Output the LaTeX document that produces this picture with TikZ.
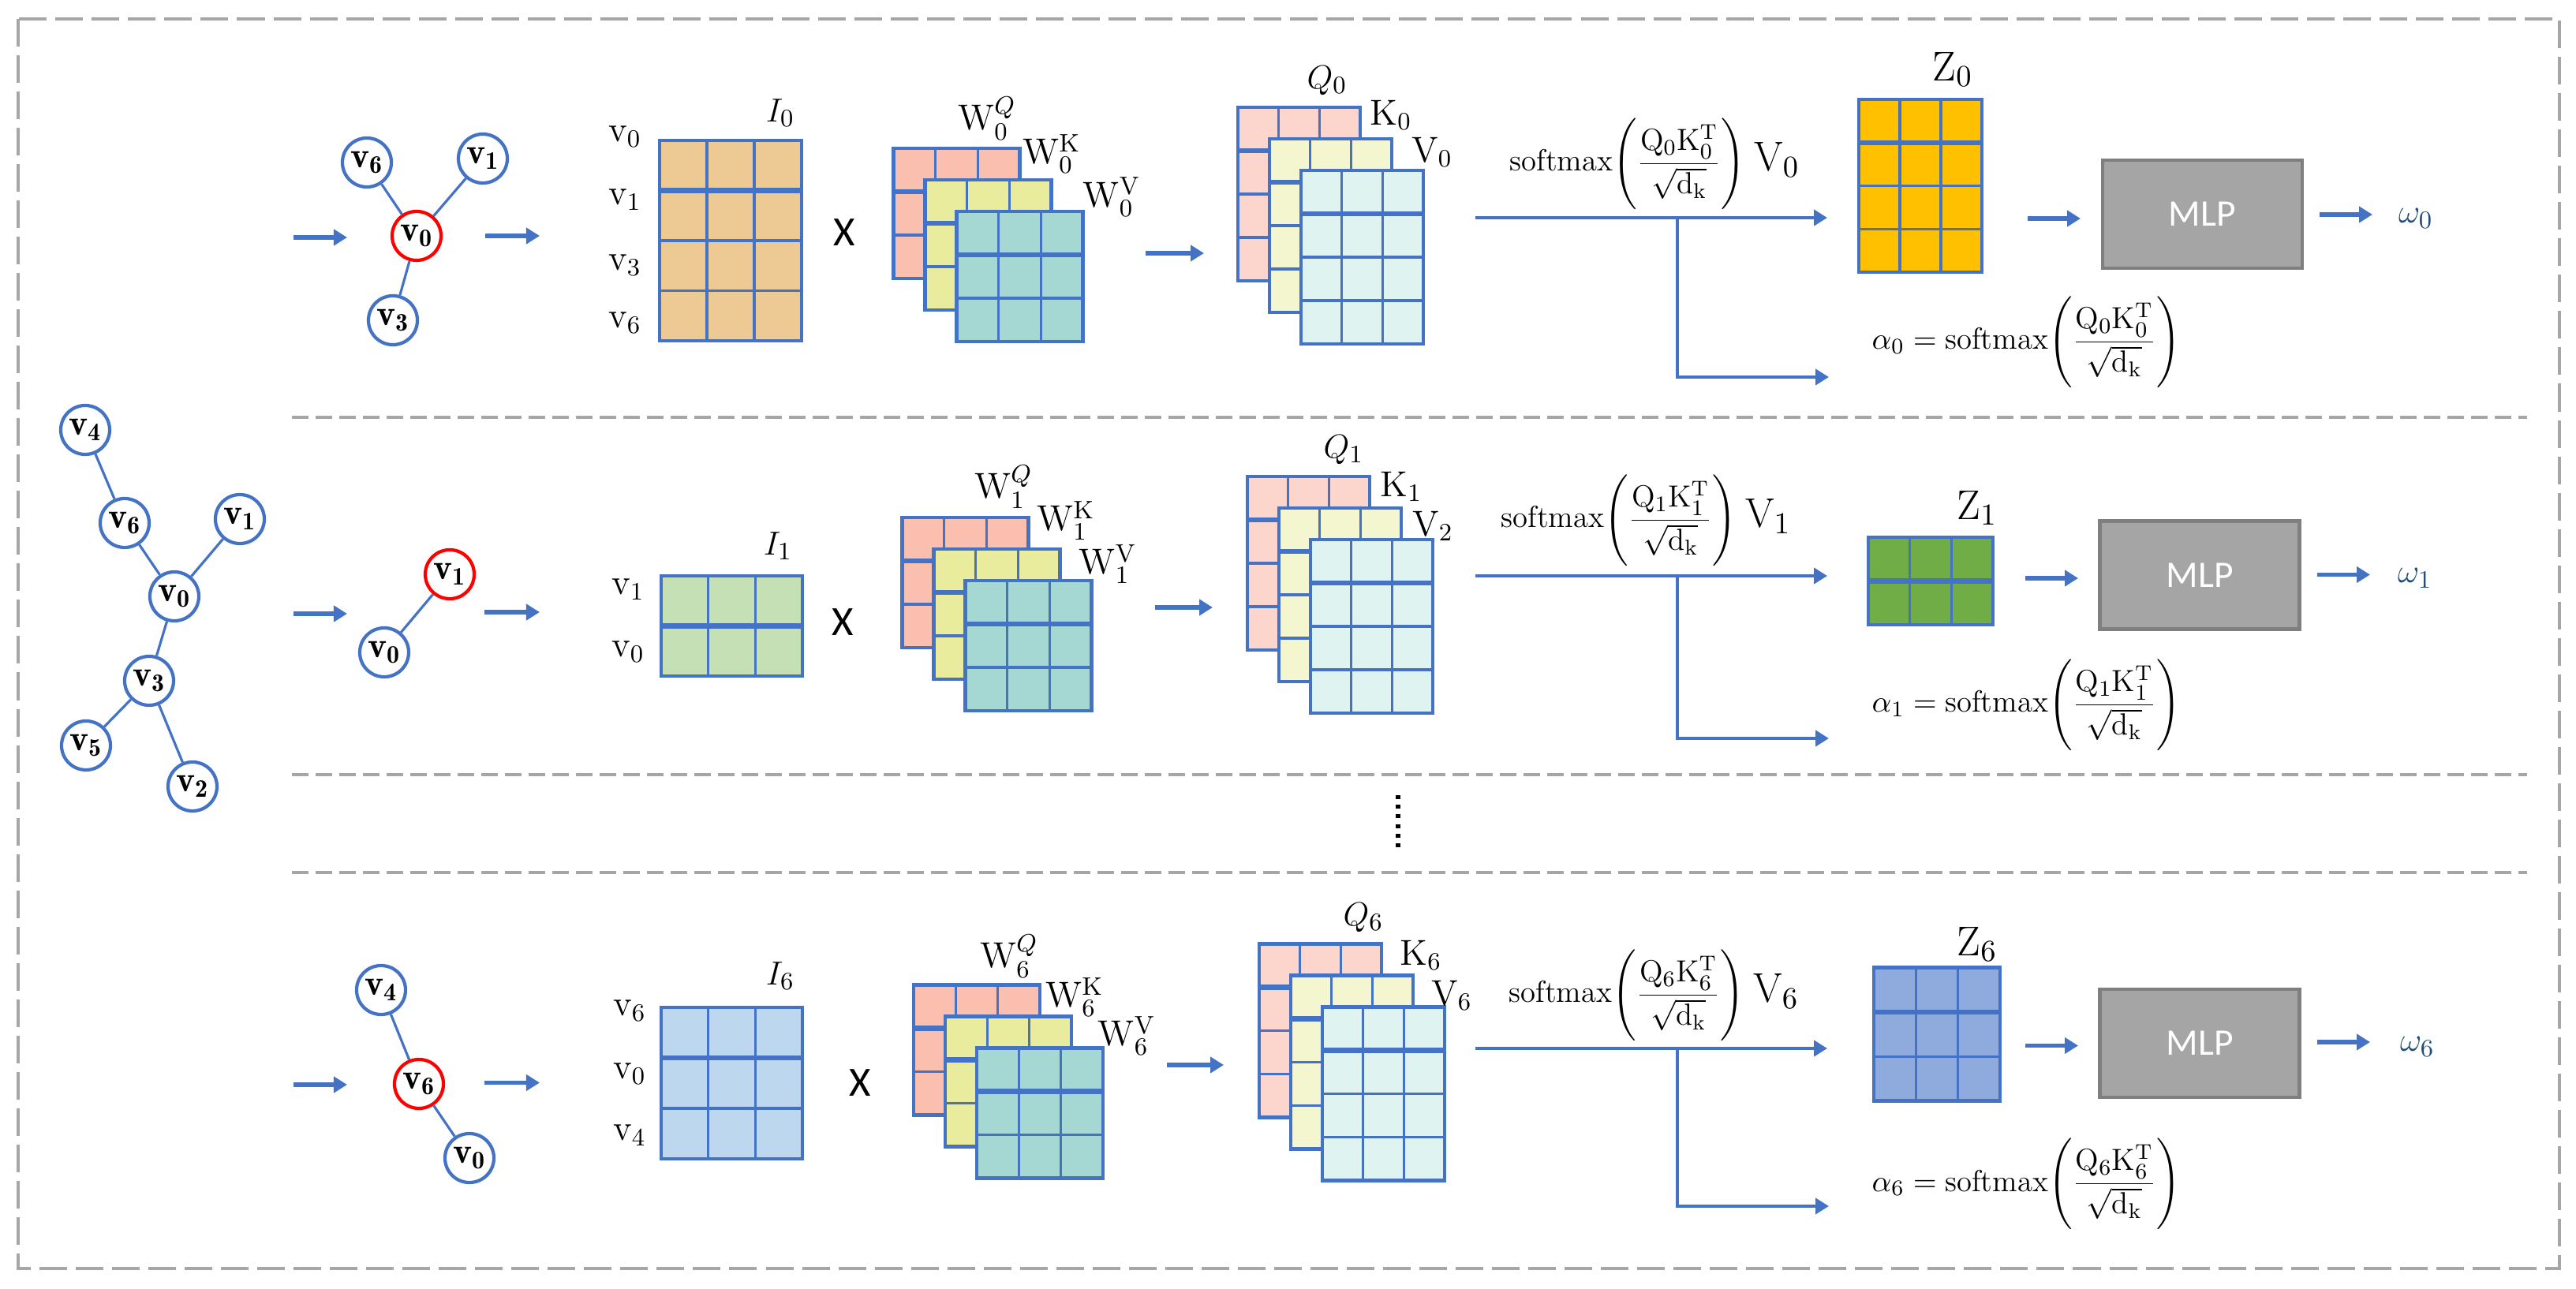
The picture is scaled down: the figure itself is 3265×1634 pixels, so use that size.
\documentclass[tikz,border=0pt]{standalone}
\usepackage{amsmath}
\usepackage{fontspec}
\newfontfamily\calibri{Carlito}
\usetikzlibrary{positioning, calc, arrows.meta}

\definecolor{lineblue}{RGB}{68,114,196}
\definecolor{hotred}{RGB}{255,0,0}
\definecolor{dashgrey}{RGB}{166,166,166}
\definecolor{mlpfill}{RGB}{165,165,165}
\definecolor{mlpedge}{RGB}{127,127,127}
\definecolor{omegablue}{RGB}{31,78,121}
\definecolor{ifill0}{RGB}{237,202,148}
\definecolor{ifill1}{RGB}{197,224,180}
\definecolor{ifill6}{RGB}{189,215,238}
\definecolor{wq}{RGB}{251,191,175}
\definecolor{wk}{RGB}{233,235,157}
\definecolor{wv}{RGB}{165,216,210}
\definecolor{mq}{RGB}{252,214,204}
\definecolor{mk}{RGB}{243,246,207}
\definecolor{mv}{RGB}{223,243,240}
\definecolor{zfill0}{RGB}{255,192,0}
\definecolor{zfill1}{RGB}{112,173,71}
\definecolor{zfill6}{RGB}{143,170,220}

\tikzset{
  vert/.style={circle,draw=lineblue,line width=1.2pt,fill=white,inner sep=0pt,minimum size=0.62cm,font=\fontsize{13}{13}\selectfont},
  centre/.style={vert,draw=hotred},
  link/.style={lineblue,line width=0.9pt},
  flow/.style={lineblue,line width=1.7pt,-{Triangle[length=0.17cm,width=0.2cm]}},
  branch/.style={lineblue,line width=1.4pt,-{Triangle[length=0.17cm,width=0.2cm]}},
  cellbox/.style={rectangle,draw=lineblue,line width=1.2pt,inner sep=0pt,outer sep=0pt},
  gridline/.style={lineblue,line width=0.9pt},
  lbl/.style={inner sep=0pt,font=\fontsize{13}{13}\selectfont},
  formula/.style={inner sep=0pt,font=\fontsize{11}{11}\selectfont},
  mlpbox/.style={rectangle,draw=mlpedge,fill=mlpfill,line width=1.3pt,minimum width=2.53cm,minimum height=1.37cm,text=white,font=\calibri\fontsize{13.5}{14}\selectfont},
  mult/.style={inner sep=0pt,font=\calibri\fontsize{15}{15}\selectfont},
  rowline/.style={dashgrey,line width=1pt,dash pattern=on 0.21cm off 0.09cm},
  outerdash/.style={dashgrey,line width=1.2pt,dash pattern=on 0.35cm off 0.11cm}
}

% grid lines inside a matrix node: name, columns, rows
\newcommand{\cellgrid}[3]{%
  \pgfmathtruncatemacro{\lastcol}{#2-1}%
  \pgfmathtruncatemacro{\lastrow}{#3-1}%
  \foreach \ci in {1,...,\lastcol}
    \draw[gridline] ($(#1.north west)!\ci/#2!(#1.north east)$) -- ($(#1.south west)!\ci/#2!(#1.south east)$);
  \foreach \ri in {1,...,\lastrow}
    \draw[gridline] ($(#1.north west)!\ri/#3!(#1.south west)$) -- ($(#1.north east)!\ri/#3!(#1.south east)$);
  \draw[gridline,line width=1.8pt] ($(#1.north west)!1/#3!(#1.south west)$) -- ($(#1.north east)!1/#3!(#1.south east)$);
  \draw[lineblue,line width=1.2pt] (#1.north west) rectangle (#1.south east);
}
% name, x, y, width, height, fill, columns, rows
\newcommand{\layer}[8]{%
  \node[cellbox,fill=#6,minimum width=#4,minimum height=#5] (#1) at (#2,#3) {};
  \cellgrid{#1}{#7}{#8}}
\newcommand{\wstack}[3]{%
  \layer{#1q}{#2}{#3}{1.6cm}{1.65cm}{wq}{3}{3}
  \layer{#1k}{#2+40}{#3+40}{1.6cm}{1.65cm}{wk}{3}{3}
  \layer{#1v}{#2+80}{#3+80}{1.6cm}{1.65cm}{wv}{3}{3}}
\newcommand{\qkvstack}[3]{%
  \layer{#1Q}{#2}{#3}{1.55cm}{2.2cm}{mq}{3}{4}
  \layer{#1K}{#2+40}{#3+40}{1.55cm}{2.2cm}{mk}{3}{4}
  \layer{#1V}{#2+80}{#3+80}{1.55cm}{2.2cm}{mv}{3}{4}}
% short arrow: name, x from, x to, y
\newcommand{\flowarrow}[4]{%
  \coordinate (#1a) at (#2,#4);
  \coordinate (#1b) at (#3,#4);
  \draw[flow] (#1a) -- (#1b);}
% attention output line and its branch: tag, y top, y bottom
\newcommand{\splitline}[3]{%
  \coordinate (#1s) at (1870,#2);
  \coordinate (#1j) at (2126,#2);
  \coordinate (#1e) at (2316,#2);
  \coordinate (#1d) at (2126,#3);
  \coordinate (#1f) at (2318,#3);
  \draw[branch] (#1s) -- (#1e);
  \draw[branch] (#1j) -- (#1d) -- (#1f);}
% softmax of Q K^T / sqrt(d_k)
\newcommand{\attn}[1]{\mathrm{softmax}\Biggl(\dfrac{\mathrm{Q}_#1\mathrm{K}_#1^{\mathrm{T}}}{\sqrt{\mathrm{d}_\mathrm{k}}}\Biggr)}

\begin{document}
\begin{tikzpicture}[x=0.01cm,y=-0.01cm]
\useasboundingbox (0,0) rectangle (3265,1634);
\draw[outerdash] (23,24) rectangle (3244,1608);
\draw[rowline] (370,529) -- (3203,529);
\draw[rowline] (370,982) -- (3203,982);
\draw[rowline] (370,1106) -- (3203,1106);
\draw[black,line width=1.6pt,dash pattern=on 0.05cm off 0.072cm] (1772,1008) -- (1772,1078);

% whole graph
\node[vert] (g4) at (108,545) {$\mathbf{v_4}$};
\node[vert] (g6) at (158,663) {$\mathbf{v_6}$};
\node[vert] (g1) at (304,658) {$\mathbf{v_1}$};
\node[vert] (g0) at (221,756) {$\mathbf{v_0}$};
\node[vert] (g3) at (189,863) {$\mathbf{v_3}$};
\node[vert] (g5) at (109,945) {$\mathbf{v_5}$};
\node[vert] (g2) at (244,997) {$\mathbf{v_2}$};
\draw[link] (g4) -- (g6) -- (g0) -- (g3) -- (g5) (g1) -- (g0) (g3) -- (g2);

% row 0
\flowarrow{in0}{372}{440}{301}
\node[centre] (s0v0) at (528,299) {$\mathbf{v_0}$};
\node[vert] (s0v6) at (465,206) {$\mathbf{v_6}$};
\node[vert] (s0v1) at (612,201) {$\mathbf{v_1}$};
\node[vert] (s0v3) at (498,406) {$\mathbf{v_3}$};
\draw[link] (s0v0) -- (s0v6) (s0v0) -- (s0v1) (s0v0) -- (s0v3);
\flowarrow{out0}{615}{684}{299}
\layer{I0}{926}{305}{1.8cm}{2.535cm}{ifill0}{3}{4}
\foreach \t/\yy [count=\n] in {0/173,1/253,3/336,6/409}
  \node[lbl] (I0r\n) at (792,\yy) {$\mathrm{v}_\t$};
\node[lbl] (I0t) at (989,143) {$I_0$};
\node[mult] (x0) at (1070,295) {X};
\wstack{w0}{1212.5}{270.5}
\node[lbl] (w0qt) at (1251,150) {$\mathrm{W}_0^{Q}$};
\node[lbl] (w0kt) at (1333,195) {$\mathrm{W}_0^{\mathrm{K}}$};
\node[lbl] (w0vt) at (1409,250) {$\mathrm{W}_0^{\mathrm{V}}$};
\flowarrow{p0}{1452}{1526}{321}
\qkvstack{m0}{1646.5}{246}
\node[lbl] (m0Qt) at (1682,102) {$Q_0$};
\node[lbl] (m0Kt) at (1763,146) {$\mathrm{K}_0$};
\node[lbl] (m0Vt) at (1815,193) {$\mathrm{V}_0$};
\node[formula,anchor=base west] (sm0) at (1913,217) {$\attn{0}$};
\node[inner sep=0pt,font=\fontsize{15}{15}\selectfont,anchor=base west] (smv0) at ([xshift=0.1cm]sm0.base east) {$\mathrm{V}_0$};
\splitline{c0}{276}{478}
\layer{Z0}{2434}{235.5}{1.56cm}{2.19cm}{zfill0}{3}{4}
\node[inner sep=0pt,font=\fontsize{15}{15}\selectfont] (Z0t) at (2475,88) {$\mathrm{Z}_0$};
\flowarrow{z0}{2570}{2637}{277}
\node[mlpbox] (mlp0) at (2791.5,271.5) {MLP};
\flowarrow{o0}{2940}{3007}{272}
\node[lbl,text=omegablue] (om0) at (3062,277) {$\omega_0$};
\node[formula,anchor=base west] (al0) at (2372,443) {$\alpha_0 = \attn{0}$};

% row 1
\flowarrow{in1}{372}{440}{778}
\node[centre] (s1v1) at (570,728) {$\mathbf{v_1}$};
\node[vert] (s1v0) at (487,827) {$\mathbf{v_0}$};
\draw[link] (s1v1) -- (s1v0);
\flowarrow{out1}{614}{684}{776}
\layer{I1}{927.5}{793.5}{1.79cm}{1.27cm}{ifill1}{3}{2}
\foreach \t/\yy [count=\n] in {1/747,0/826}
  \node[lbl] (I1r\n) at (796,\yy) {$\mathrm{v}_\t$};
\node[lbl] (I1t) at (986,692) {$I_1$};
\node[mult] (x1) at (1068,789) {X};
\wstack{w1}{1223.5}{738.5}
\node[lbl] (w1qt) at (1272,617) {$\mathrm{W}_1^{Q}$};
\node[lbl] (w1kt) at (1351,660) {$\mathrm{W}_1^{\mathrm{K}}$};
\node[lbl] (w1vt) at (1404,715) {$\mathrm{W}_1^{\mathrm{V}}$};
\flowarrow{p1}{1464}{1537}{770}
\qkvstack{m1}{1658.5}{714}
\node[lbl] (m1Qt) at (1703,570) {$Q_1$};
\node[lbl] (m1Kt) at (1776,617) {$\mathrm{K}_1$};
\node[lbl] (m1Vt) at (1816,667) {$\mathrm{V}_2$};
\node[formula,anchor=base west] (sm1) at (1902,669) {$\attn{1}$};
\node[inner sep=0pt,font=\fontsize{15}{15}\selectfont,anchor=base west] (smv1) at ([xshift=0.1cm]sm1.base east) {$\mathrm{V}_1$};
\splitline{c1}{730}{936}
\layer{Z1}{2447}{736.5}{1.58cm}{1.11cm}{zfill1}{3}{2}
\node[inner sep=0pt,font=\fontsize{15}{15}\selectfont] (Z1t) at (2506,644) {$\mathrm{Z}_1$};
\flowarrow{z1}{2567}{2634}{733}
\node[mlpbox] (mlp1) at (2788,729) {MLP};
\flowarrow{o1}{2937}{3004}{728.5}
\node[lbl,text=omegablue] (om1) at (3061,733) {$\omega_1$};
\node[formula,anchor=base west] (al1) at (2372,903) {$\alpha_1 = \attn{1}$};

% row 6
\flowarrow{in6}{372}{440}{1375}
\node[centre] (s6v6) at (531,1374) {$\mathbf{v_6}$};
\node[vert] (s6v4) at (483,1255) {$\mathbf{v_4}$};
\node[vert] (s6v0) at (595,1468) {$\mathbf{v_0}$};
\draw[link] (s6v6) -- (s6v4) (s6v6) -- (s6v0);
\flowarrow{out6}{614}{684}{1372.5}
\layer{I6}{927.5}{1373}{1.79cm}{1.92cm}{ifill6}{3}{3}
\foreach \t/\yy [count=\n] in {6/1281,0/1361,4/1439}
  \node[lbl] (I6r\n) at (798,\yy) {$\mathrm{v}_\t$};
\node[lbl] (I6t) at (989,1237) {$I_6$};
\node[mult] (x6) at (1090,1373) {X};
\wstack{w6}{1238}{1331}
\node[lbl] (w6qt) at (1279,1212) {$\mathrm{W}_6^{Q}$};
\node[lbl] (w6kt) at (1362,1264) {$\mathrm{W}_6^{\mathrm{K}}$};
\node[lbl] (w6vt) at (1428,1313) {$\mathrm{W}_6^{\mathrm{V}}$};
\flowarrow{p6}{1479}{1551}{1350}
\qkvstack{m6}{1673.5}{1306.5}
\node[lbl] (m6Qt) at (1728,1163) {$Q_6$};
\node[lbl] (m6Kt) at (1801,1211) {$\mathrm{K}_6$};
\node[lbl] (m6Vt) at (1840,1262) {$\mathrm{V}_6$};
\node[formula,anchor=base west] (sm6) at (1912,1271) {$\attn{6}$};
\node[inner sep=0pt,font=\fontsize{15}{15}\selectfont,anchor=base west] (smv6) at ([xshift=0.1cm]sm6.base east) {$\mathrm{V}_6$};
\splitline{c6}{1329}{1529}
\layer{Z6}{2455}{1311}{1.6cm}{1.69cm}{zfill6}{3}{3}
\node[inner sep=0pt,font=\fontsize{15}{15}\selectfont] (Z6t) at (2506,1197) {$\mathrm{Z}_6$};
\flowarrow{z6}{2567}{2634}{1325.5}
\node[mlpbox] (mlp6) at (2788,1322.5) {MLP};
\flowarrow{o6}{2937}{3004}{1321}
\node[lbl,text=omegablue] (om6) at (3064,1327) {$\omega_6$};
\node[formula,anchor=base west] (al6) at (2372,1510) {$\alpha_6 = \attn{6}$};
\end{tikzpicture}
\end{document}
